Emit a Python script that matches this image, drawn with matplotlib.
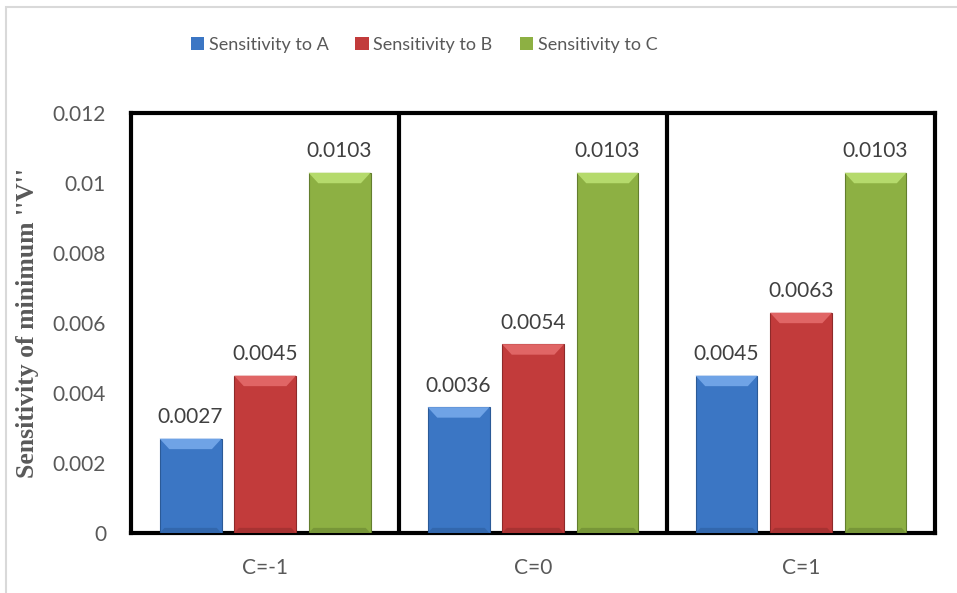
import numpy as np
import matplotlib.pyplot as plt
from matplotlib.patches import Polygon, Rectangle

categories = ['C=-1', 'C=0', 'C=1']
series = ['Sensitivity to A', 'Sensitivity to B', 'Sensitivity to C']
sens_a = [0.0027, 0.0036, 0.0045]
sens_b = [0.0045, 0.0054, 0.0063]
sens_c = [0.0103, 0.0103, 0.0103]
values = [sens_a, sens_b, sens_c]

face = ['#3B76C4', '#C23B3B', '#8DB043']
light = ['#6FA3E6', '#E06565', '#B5DA6C']
edge = ['#2B5A97', '#8E2A2A', '#637E2E']
txt = '#595959'

plt.rcParams['font.family'] = ['Lato', 'DejaVu Sans']

fig = plt.figure(figsize=(9.57, 5.93), dpi=100)
ax = fig.add_axes([0.137, 0.101, 0.840, 0.708])

# outer chart frame
fig.patches.append(Rectangle((6 / 957, -0.1), 1.2, 1 - 7 / 593 + 0.1, transform=fig.transFigure,
                             fill=False, edgecolor='#D9D9D9', lw=1.5, zorder=0))

x = np.arange(len(categories))
step = 0.278
width = 0.231
bx, by = 0.036, 0.0003  # bevel size

for i, vals in enumerate(values):
    pos = x + (i - 1) * step
    ax.bar(pos, vals, width, color=face[i], edgecolor=edge[i], linewidth=0.8, zorder=3)
    for p, v in zip(pos, vals):
        l, r = p - width / 2, p + width / 2
        # lighter top bevel, darker foot
        ax.add_patch(Polygon([(l, v), (r, v), (r - bx, v - by), (l + bx, v - by)],
                             closed=True, facecolor=light[i], edgecolor='none', zorder=4))
        ax.add_patch(Polygon([(l, 0), (l + bx * 0.5, by * 0.5), (r - bx * 0.5, by * 0.5), (r, 0)],
                             closed=True, facecolor=edge[i], edgecolor='none', alpha=0.5, zorder=4))
        ax.text(p, v + 0.00033, f'{v:.4f}', ha='center', va='bottom', fontsize=15,
                color='#404040', zorder=5)
    ax.bar([0], [0], color=face[i], label=series[i])

for d in [0.5, 1.5]:
    ax.axvline(d, color='black', lw=3, zorder=2)

ax.set_xlim(-0.5, 2.5)
ax.set_ylim(0, 0.012)
ax.set_yticks(np.arange(0, 0.0121, 0.002))
ax.set_yticklabels(['0', '0.002', '0.004', '0.006', '0.008', '0.01', '0.012'])
ax.set_xticks(x)
ax.set_xticklabels(categories)
ax.tick_params(axis='both', length=0, labelsize=15, colors=txt)
ax.tick_params(axis='y', pad=18)
ax.tick_params(axis='x', pad=18)
for s in ax.spines.values():
    s.set_color('black')
    s.set_linewidth(3)

ax.set_ylabel('Sensitivity of minimum \'\'V\'\'', family='Liberation Serif', fontweight='bold',
              fontsize=18.5, color=txt, labelpad=10)

fig.legend(loc='center', bbox_to_anchor=(0.443, 0.924), ncol=3, frameon=False, fontsize=13,
           labelcolor=txt, handlelength=0.75, handleheight=0.75, handletextpad=0.25,
           columnspacing=1.5)

fig.savefig('out.png', dpi=100)
